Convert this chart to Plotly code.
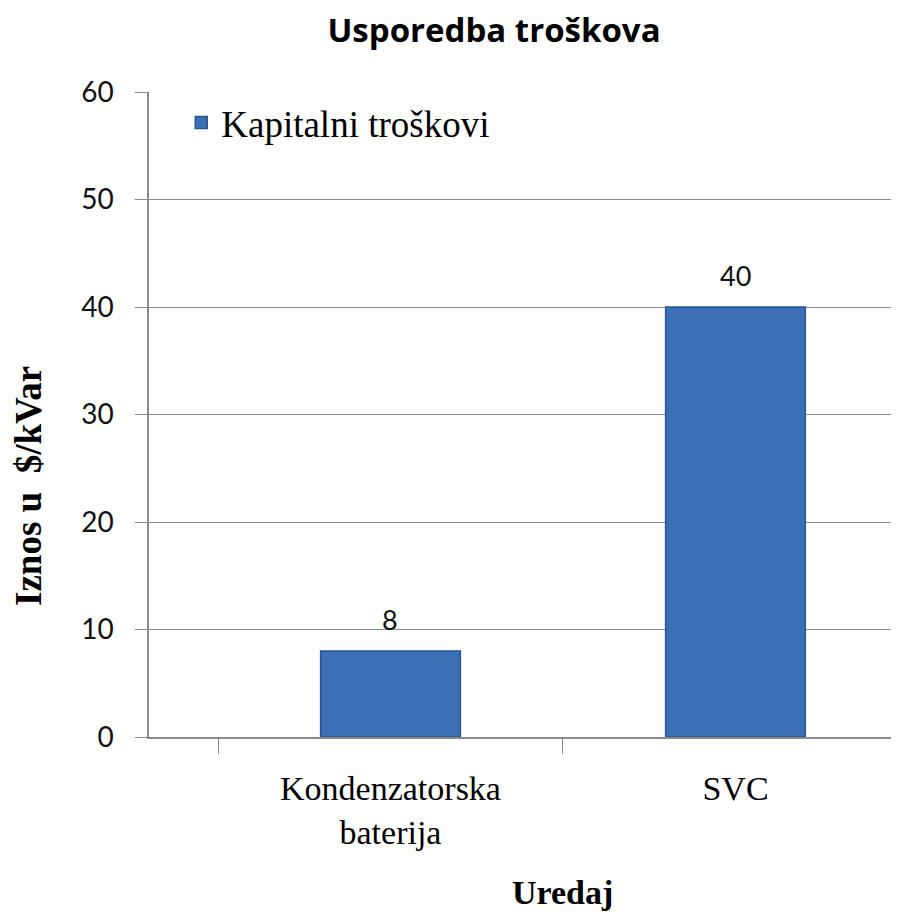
import plotly.graph_objects as go

categories = ["Kondenzatorska<br>baterija", "SVC"]
values = [8, 40]
series_name = "Kapitalni troškovi"
title_text = "Usporedba troškova"
y_title = "Iznos u  $/kVar"
x_title = "Uredaj"
y_ticks = [0, 10, 20, 30, 40, 50, 60]

# the page body has an 8px margin, so the figure is laid out 8px smaller
FIG_W, FIG_H = 891, 907
PL, PT, PB = 141, 84, 178
PW = FIG_W - PL
PH = FIG_H - PT - PB

fig = go.Figure()
fig.add_trace(go.Bar(
    x=categories,
    y=values,
    name=series_name,
    width=0.405,
    marker=dict(color="#3b6fb6", line=dict(color="#2a568f", width=1.5)),
    cliponaxis=False,
    showlegend=True,
))

label_annotations = [
    dict(
        x=c, y=v, xref="x", yref="y",
        text=str(v), showarrow=False,
        yanchor="middle", yshift=32,
        font=dict(family="Lato", size=27, color="#111111"),
    )
    for c, v in zip(categories, values)
]

fig.update_layout(
    width=FIG_W,
    height=FIG_H,
    margin=dict(l=PL, r=0, t=PT, b=PB),
    paper_bgcolor="white",
    plot_bgcolor="white",
    title=dict(
        text=title_text,
        x=486 / FIG_W, xanchor="center",
        y=1 - 22 / FIG_H, yanchor="middle",
        font=dict(family="Open Sans", size=33, color="black", weight="bold"),
    ),
    showlegend=True,
    legend=dict(
        x=0.043, y=1.0, xanchor="left", yanchor="top",
        bgcolor="rgba(0,0,0,0)",
        font=dict(family="Liberation Serif", size=37, color="black"),
    ),
    yaxis=dict(
        automargin=False,
        range=[0, 60],
        tickvals=y_ticks,
        showgrid=True,
        gridcolor="#8a8a8a",
        gridwidth=1,
        showline=True,
        linecolor="#8a8a8a",
        linewidth=1.5,
        ticks="outside",
        ticklen=12,
        tickcolor="#8a8a8a",
        ticklabelstandoff=16,
        tickfont=dict(family="Lato", size=28, color="#111111"),
        zeroline=False,
    ),
    xaxis=dict(
        automargin=False,
        type="category",
        range=[-0.7, 1.474],
        tickson="boundaries",
        ticks="outside",
        ticklen=15,
        tickcolor="#8a8a8a",
        showline=True,
        linecolor="#8a8a8a",
        linewidth=1.5,
        showgrid=False,
        ticklabelstandoff=20,
        tickfont=dict(family="Liberation Serif", size=34, color="black"),
    ),
    annotations=label_annotations + [
        dict(
            text=x_title,
            xref="paper", yref="paper",
            x=(554 - PL) / PW, y=-(884 - (PT + PH)) / PH,
            xanchor="center", yanchor="middle",
            showarrow=False,
            font=dict(family="Liberation Serif", size=34, color="black", weight="bold"),
        ),
        dict(
            text=y_title,
            xref="paper", yref="paper",
            x=(20 - PL) / PW, y=((PT + PH) - 478) / PH,
            xanchor="center", yanchor="middle",
            textangle=-90,
            showarrow=False,
            font=dict(family="Liberation Serif", size=37, color="black", weight="bold"),
        ),
    ],
)

fig.write_html("out.html")
